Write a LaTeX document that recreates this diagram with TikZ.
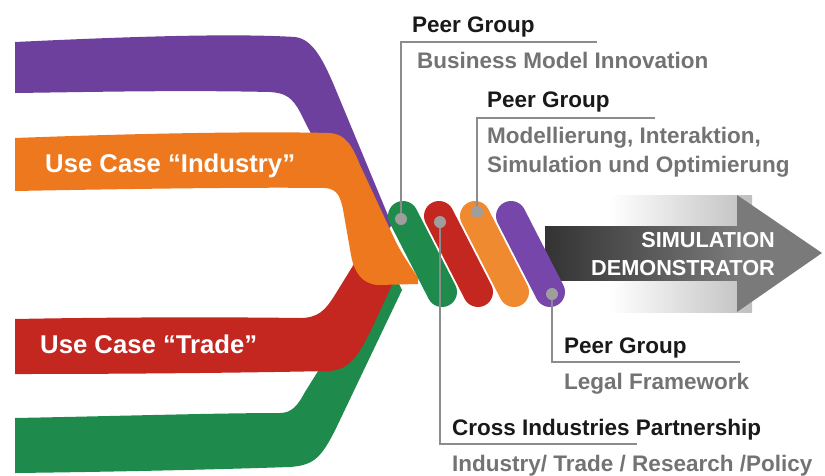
\documentclass[tikz,border=0pt]{standalone}
\usepackage{fontspec}
\setmainfont{Liberation Sans}
\usepackage{tikz}
\usetikzlibrary{calc}

\definecolor{bandpurple}{RGB}{110,64,158}
\definecolor{bandorange}{RGB}{238,120,30}
\definecolor{bandred}{RGB}{196,38,32}
\definecolor{bandgreen}{RGB}{30,138,76}
\definecolor{pillorange}{RGB}{240,138,48}
\definecolor{pillpurple}{RGB}{118,70,170}

\begin{document}
\begin{tikzpicture}[x=1pt,y=-1pt,
    title/.style={font=\bfseries\fontsize{22.5}{26}\selectfont, text=black!90, anchor=base west, inner sep=0pt},
    subtitle/.style={title, text=black!55},
    bandlabel/.style={font=\bfseries\fontsize{25.7}{29}\selectfont, text=white, anchor=base west, inner sep=0pt},
    arrowtext/.style={font=\bfseries\fontsize{21.7}{28}\selectfont, text=white, align=right, anchor=east, inner sep=0pt},
    lead/.style={draw=black!45, line width=2.5pt},
    dot/.style={circle, fill=black!38, inner sep=0pt, minimum size=12pt},
    pill/.style={line width=30pt, line cap=round}]
    \useasboundingbox (0,0) rectangle (825,475);

    % the four ribbons
    \fill[bandgreen] (15,418) .. controls (120,416) and (220,413) .. (280,413)
        .. controls (292,413) and (298,405) .. (305,392) -- (350,320) -- (390,265) -- (402,290)
        -- (340,420) .. controls (322,458) and (315,465) .. (290,467)
        .. controls (200,470) and (100,472) .. (15,473) -- cycle;
    \fill[bandred] (15,319) .. controls (120,317) and (230,317) .. (300,318)
        .. controls (318,318) and (325,310) .. (333,298) -- (375,230) -- (405,260) -- (392,285)
        -- (372,328) .. controls (360,352) and (352,369) .. (330,371)
        .. controls (230,373) and (120,374) .. (15,374) -- cycle;
    \fill[bandpurple] (15,42) .. controls (120,37) and (230,33) .. (295,37)
        .. controls (312,39) and (322,58) .. (333,83) -- (392,225) -- (370,250)
        -- (300,112) .. controls (292,97) and (285,93) .. (270,92)
        .. controls (180,90) and (90,92) .. (15,93) -- cycle;
    \fill[bandorange] (15,138) .. controls (120,134) and (250,131) .. (330,133)
        .. controls (345,134) and (352,145) .. (360,165) -- (395,240)
        .. controls (402,255) and (412,268) .. (418,278) -- (418,284) -- (378,285)
        .. controls (362,284) and (354,272) .. (351,255) -- (344,215)
        .. controls (341,197) and (338,189) .. (325,188)
        .. controls (250,187) and (120,189) .. (15,191) -- cycle;

    \node[bandlabel] (industry) at (45,172) {Use Case “Industry”};
    \node[bandlabel] (trade) at (40,353) {Use Case “Trade”};

    % arrow
    \shade[left color=white, right color=black!25] (610,195) rectangle (752,312);
    \shade[left color=black!80, right color=black!52] (545,226) rectangle (740,280);
    \fill[black!52] (737,195) -- (822,253) -- (737,312) -- cycle;
    \node[arrowtext] (demo) at (775,254) {SIMULATION\\DEMONSTRATOR};

    % knot
    \coordinate (g1) at (403,216); \coordinate (g2) at (442,292);
    \coordinate (r1) at (439,216); \coordinate (r2) at (478,292);
    \coordinate (o1) at (475,216); \coordinate (o2) at (514,292);
    \coordinate (p1) at (511,216); \coordinate (p2) at (550,292);
    \draw[pill, bandgreen] (g1) -- (g2);
    \draw[pill, bandred] (r1) -- (r2);
    \draw[pill, pillorange] (o1) -- (o2);
    \draw[pill, pillpurple] (p1) -- (p2);

    % labels
    \coordinate (pgreen) at (401,219);
    \coordinate (pred) at (440,222);
    \coordinate (porange) at (477,212);
    \coordinate (ppurple) at (552,294);
    \coordinate (egreen) at (597,42);
    \coordinate (ered) at (637,444);
    \coordinate (eorange) at (655,118);
    \coordinate (epurple) at (740,362);

    \draw[lead] (pgreen) |- (egreen);
    \draw[lead] (porange) |- (eorange);
    \draw[lead] (pred) |- (ered);
    \draw[lead] (ppurple) |- (epurple);

    \node[dot] (dotgreen) at (pgreen) {};
    \node[dot] (dotred) at (pred) {};
    \node[dot] (dotorange) at (porange) {};
    \node[dot] (dotpurple) at (ppurple) {};

    \node[title] (bmi) at (412,32) {Peer Group};
    \node[subtitle] (bmisub) at (417,68) {Business Model Innovation};
    \node[title] (mis) at (487,107) {Peer Group};
    \node[subtitle] (missub1) at (487,143) {Modellierung, Interaktion,};
    \node[subtitle] (missub2) at (487,172) {Simulation und Optimierung};
    \node[title] (legal) at (564,353) {Peer Group};
    \node[subtitle] (legalsub) at (564,389) {Legal Framework};
    \node[title] (cross) at (452,435) {Cross Industries Partnership};
    \node[subtitle] (crosssub) at (452,471) {Industry/ Trade / Research /Policy};
\end{tikzpicture}
\end{document}
